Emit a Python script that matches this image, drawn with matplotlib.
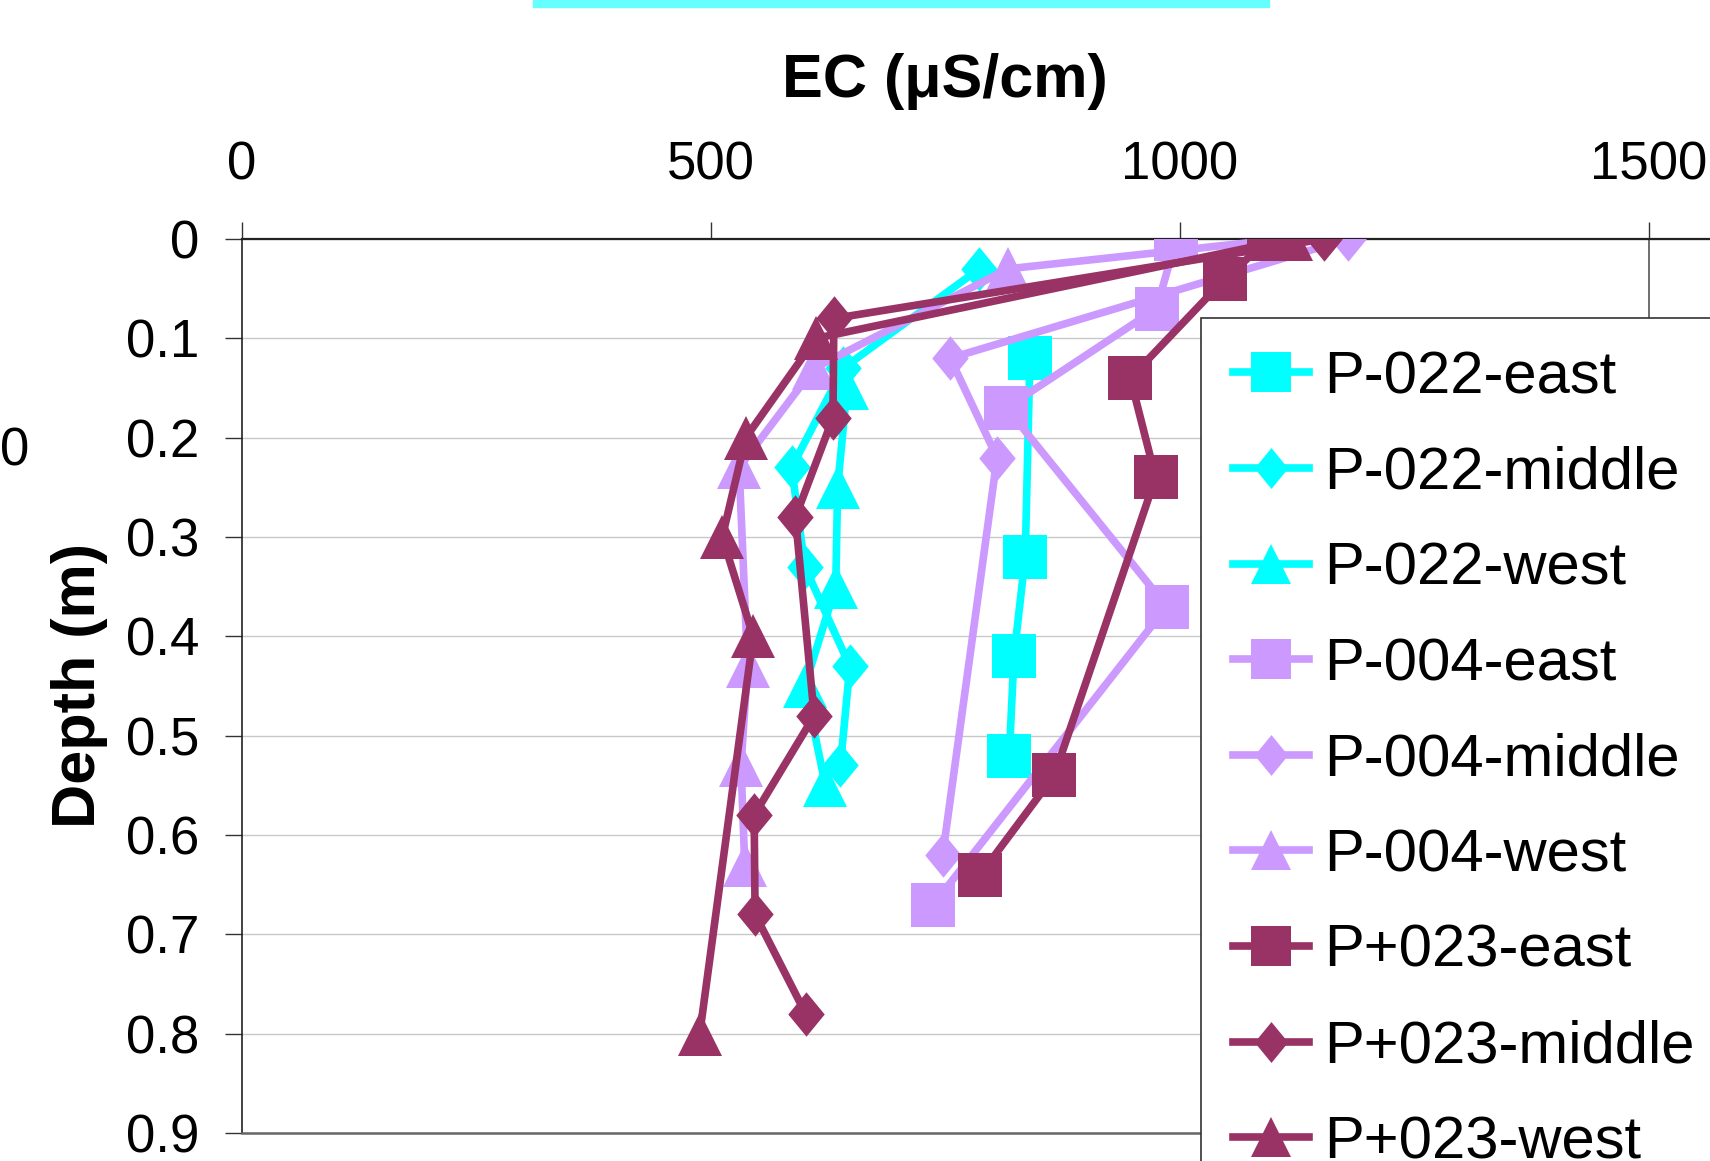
import matplotlib
matplotlib.use('Agg')
import matplotlib.pyplot as plt
from matplotlib.patches import Rectangle

plt.rcParams['font.family'] = ['Liberation Sans', 'DejaVu Sans']

# EC (uS/cm) versus depth (m) for each profile
labels = ['P-022-east', 'P-022-middle', 'P-022-west',
          'P-004-east', 'P-004-middle', 'P-004-west',
          'P+023-east', 'P+023-middle', 'P+023-west']

depth_p022_east = [0.12, 0.32, 0.42, 0.52]
ec_p022_east = [840, 835, 823, 818]
depth_p022_middle = [0.03, 0.13, 0.23, 0.33, 0.43, 0.53]
ec_p022_middle = [786, 641, 586, 600, 648, 638]
depth_p022_west = [0.15, 0.25, 0.35, 0.45, 0.55]
ec_p022_west = [645, 635, 633, 600, 622]

depth_p004_east = [0.0, 0.07, 0.17, 0.37, 0.67]
ec_p004_east = [996, 975, 815, 986, 737]
depth_p004_middle = [0.0, 0.12, 0.22, 0.62]
ec_p004_middle = [1179, 755, 805, 747]
depth_p004_west = [0.0, 0.03, 0.13, 0.23, 0.43, 0.53, 0.63]
ec_p004_west = [1110, 817, 610, 530, 539, 532, 536]

depth_p023_east = [0.0, 0.04, 0.14, 0.24, 0.54, 0.64]
ec_p023_east = [1095, 1048, 947, 974, 866, 787]
depth_p023_middle = [0.0, 0.08, 0.18, 0.28, 0.48, 0.58, 0.68, 0.78]
ec_p023_middle = [1153, 631, 630, 590, 610, 546, 547, 601]
depth_p023_west = [0.0, 0.10, 0.20, 0.30, 0.40, 0.80]
ec_p023_west = [1118, 612, 537, 512, 545, 488]

x_ticks = [0, 500, 1000, 1500]
y_ticks = [0, 0.1, 0.2, 0.3, 0.4, 0.5, 0.6, 0.7, 0.8, 0.9]
y_ticklabels = ['0', '0.1', '0.2', '0.3', '0.4', '0.5', '0.6', '0.7', '0.8', '0.9']

series = [
    (ec_p022_east, depth_p022_east),
    (ec_p022_middle, depth_p022_middle),
    (ec_p022_west, depth_p022_west),
    (ec_p004_east, depth_p004_east),
    (ec_p004_middle, depth_p004_middle),
    (ec_p004_west, depth_p004_west),
    (ec_p023_east, depth_p023_east),
    (ec_p023_middle, depth_p023_middle),
    (ec_p023_west, depth_p023_west),
]

cyan = '#00FFFF'
lav = '#CC99FF'
plum = '#993366'
colors = [cyan, cyan, cyan, lav, lav, lav, plum, plum, plum]
diamond = [(0, 1), (0.82, 0), (0, -1), (-0.82, 0), (0, 1)]
markers = ['s', diamond, '^'] * 3

fig = plt.figure(figsize=(17.1, 11.61), dpi=100)
W, H = 1710.0, 1161.0
# axes extends past the right edge, like the cropped excel chart
ax = fig.add_axes([242 / W, 1 - 1133 / H, 0.938 * 1800 / W, 894 / H])

for i, (ec, d) in enumerate(series):
    ax.plot(ec, d, color=colors[i], marker=markers[i], markersize=32,
            markeredgewidth=0, linewidth=5.5, label=labels[i],
            zorder=3 + i, solid_joinstyle='miter')

ax.set_xlim(0, 1800)
ax.set_ylim(0.9, 0)
ax.xaxis.tick_top()
ax.set_xticks(x_ticks)
ax.set_yticks(y_ticks)
ax.set_yticklabels(y_ticklabels)
ax.tick_params(axis='x', labelsize=38, length=12, width=1, direction='out', pad=23, colors='#333333', labelcolor='black')
ax.tick_params(axis='y', labelsize=38, length=12, width=1, direction='out', pad=19, colors='#333333', labelcolor='black')
ax.grid(True, axis='y', color='#C8C8C8', linewidth=1)
ax.axvline(1500, color='#555555', linewidth=1.2, zorder=2)

ax.spines['top'].set_color('#222222')
ax.spines['top'].set_linewidth(1.6)
ax.spines['left'].set_color('#222222')
ax.spines['left'].set_linewidth(1.2)
ax.spines['bottom'].set_color('#666666')
ax.spines['bottom'].set_linewidth(1.8)
ax.spines['right'].set_visible(False)

fig.text(945 / W, 1 - 81 / H, u'EC (\u03bcS/cm)', fontsize=44, fontweight='bold',
         ha='center', va='center')
fig.text(80 / W, 1 - 686 / H, 'Depth (m)', fontsize=44, fontweight='bold',
         ha='center', va='center', rotation=90)

# bits of neighbouring objects that were cut off in the original crop
fig.text(0, 1 - 451 / H, '0', fontsize=38, ha='left', va='center')
fig.patches.append(Rectangle((533 / W, 1 - 7 / H), (1269 - 533) / W, 7 / H,
                             transform=fig.transFigure, color='#66FFFF', zorder=5))

leg = ax.legend(loc='upper left', bbox_to_anchor=(1201 / W, 1 - 318 / H),
                bbox_transform=fig.transFigure, fontsize=43, frameon=True,
                fancybox=False, borderpad=0.54, labelspacing=0.68,
                handlelength=1.27, handletextpad=0.25, borderaxespad=0,
                numpoints=1, markerscale=0.92)
leg.get_frame().set_edgecolor('#333333')
leg.get_frame().set_linewidth(1.2)
leg.get_frame().set_alpha(1)
leg.set_zorder(20)

fig.savefig('out.png', dpi=100)
